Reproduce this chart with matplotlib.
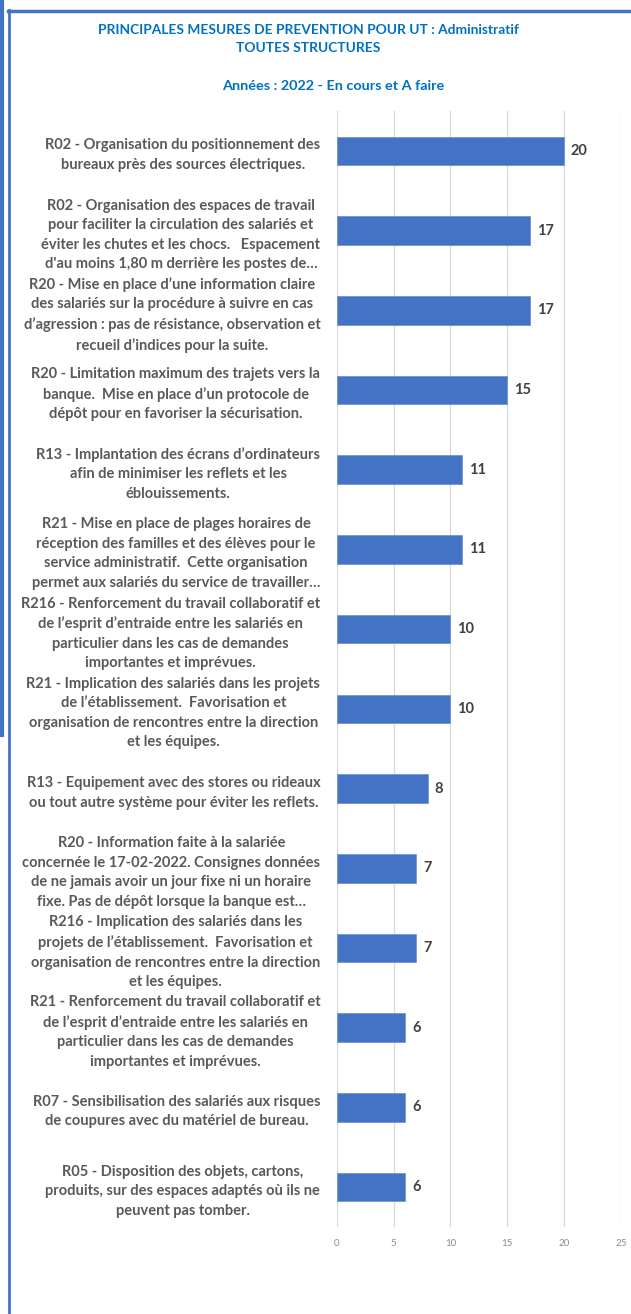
import matplotlib
matplotlib.use("Agg")
import matplotlib.pyplot as plt
from matplotlib.lines import Line2D

plt.rcParams['font.family'] = ['Lato', 'DejaVu Sans']

categories = [
    "R02 - Organisation du positionnement des\nbureaux près des sources électriques.",
    "R02 - Organisation des espaces de travail\npour faciliter la circulation des salariés et\néviter les chutes et les chocs.   Espacement\nd'au moins 1,80 m derrière les postes de…",
    "R20 - Mise en place d’une information claire\ndes salariés sur la procédure à suivre en cas\nd’agression : pas de résistance, observation et\nrecueil d’indices pour la suite.",
    "R20 - Limitation maximum des trajets vers la\nbanque.  Mise en place d’un protocole de\ndépôt pour en favoriser la sécurisation.",
    "R13 - Implantation des écrans d’ordinateurs\nafin de minimiser les reflets et les\néblouissements.",
    "R21 - Mise en place de plages horaires de\nréception des familles et des élèves pour le\nservice administratif.  Cette organisation\npermet aux salariés du service de travailler…",
    "R216 - Renforcement du travail collaboratif et\nde l’esprit d’entraide entre les salariés en\nparticulier dans les cas de demandes\nimportantes et imprévues.",
    "R21 - Implication des salariés dans les projets\nde l’établissement.  Favorisation et\norganisation de rencontres entre la direction\net les équipes.",
    "R13 - Equipement avec des stores ou rideaux\nou tout autre système pour éviter les reflets.",
    "R20 - Information faite à la salariée\nconcernée le 17-02-2022. Consignes données\nde ne jamais avoir un jour fixe ni un horaire\nfixe. Pas de dépôt lorsque la banque est…",
    "R216 - Implication des salariés dans les\nprojets de l’établissement.  Favorisation et\norganisation de rencontres entre la direction\net les équipes.",
    "R21 - Renforcement du travail collaboratif et\nde l’esprit d’entraide entre les salariés en\nparticulier dans les cas de demandes\nimportantes et imprévues.",
    "R07 - Sensibilisation des salariés aux risques\nde coupures avec du matériel de bureau.",
    "R05 - Disposition des objets, cartons,\nproduits, sur des espaces adaptés où ils ne\npeuvent pas tomber.",
]
values = [20, 17, 17, 15, 11, 11, 10, 10, 8, 7, 7, 6, 6, 6]
xticks = [0, 5, 10, 15, 20, 25]

title_lines = ["PRINCIPALES MESURES DE PREVENTION POUR UT : Administratif",
               "TOUTES STRUCTURES"]
subtitle = "Années : 2022 - En cours et A faire"

BLUE = "#4472C4"
TITLE_BLUE = "#0070C0"
GRAY = "#595959"

W, H = 631, 1314
fig = plt.figure(figsize=(W / 100, H / 100), dpi=100)
ax = fig.add_axes([337 / W, 1 - 1227 / H, (620.7 - 337) / W, (1227 - 111) / H])

ypos = list(range(len(values)))
ax.barh(ypos, values, height=0.36, color=BLUE, edgecolor="#6f95d8", linewidth=0.6, zorder=3)
ax.set_ylim(len(values) - 0.5, -0.5)
ax.set_xlim(0, 25)
ax.set_xticks(xticks)
ax.set_xticklabels([str(t) for t in xticks], fontsize=7, color="#8c8c8c")
ax.xaxis.grid(True, color="#d9d9d9", linewidth=0.9, zorder=0)
ax.set_yticks(ypos)
ax.set_yticklabels(categories, fontsize=10.5, fontweight="bold", color=GRAY,
                   multialignment="center", linespacing=1.5)
ax.tick_params(axis="both", length=0)
ax.tick_params(axis="y", pad=12)
ax.tick_params(axis="x", pad=9)
for s in ax.spines.values():
    s.set_visible(False)

for y, v in zip(ypos, values):
    ax.text(v + 0.6, y, str(v), va="center", ha="left", fontsize=10.5,
            fontweight="bold", color="#404040")

fig.text(308 / W, 1 - 30 / H, title_lines[0], ha="center", va="center",
         fontsize=9.9, fontweight="bold", color=TITLE_BLUE)
fig.text(308 / W, 1 - 48 / H, title_lines[1], ha="center", va="center",
         fontsize=9.9, fontweight="bold", color=TITLE_BLUE)
fig.text(333 / W, 1 - 86 / H, subtitle, ha="center", va="center",
         fontsize=10.4, fontweight="bold", color=TITLE_BLUE)

# border lines
fig.add_artist(Line2D([2 / W, 2 / W], [1, 1 - 735 / H], color=BLUE, linewidth=3, transform=fig.transFigure))
fig.add_artist(Line2D([8.5 / W, 8.5 / W], [1 - 10 / H, 0], color=BLUE, linewidth=2, transform=fig.transFigure))
fig.add_artist(Line2D([8 / W, 1], [1 - 11 / H, 1 - 11 / H], color=BLUE, linewidth=2.5, transform=fig.transFigure))

fig.savefig("out.png", dpi=100)
